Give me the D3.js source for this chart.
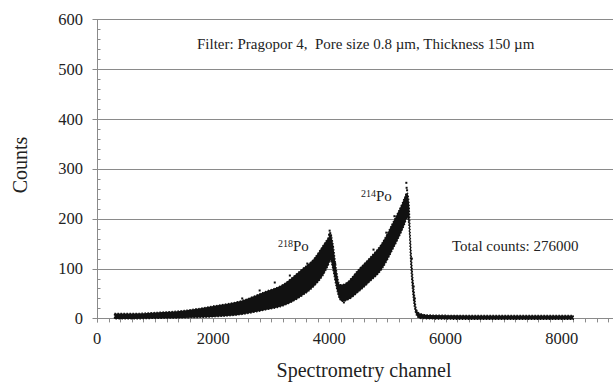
<!DOCTYPE html>
<html><head><meta charset="utf-8">
<script src="https://cdn.jsdelivr.net/npm/d3@7"></script>
<style>body{margin:0;background:#fff}svg{display:block}text{font-family:"Liberation Serif","Times New Roman",serif;fill:#222;white-space:pre}</style>
</head><body><div id="chart"></div>
<script>
// Spectrum band: channel, lower and upper edge of the dense point cloud (counts)
const channels = [300, 600, 1000, 1500, 2000, 2500, 2900, 3200, 3500, 3750, 3900, 3980, 4020, 4060, 4120, 4180, 4230, 4300, 4500, 4700, 4900, 5100, 5250, 5300, 5340, 5370, 5400, 5430, 5460, 5500, 5560, 5700, 6500, 7500, 8200];
const lower    = [1,   1,   2,    3,    5,    10,   19,   27,   45,   68,   90,   108,  118,  100,  64,   40,   36,   38,   55,   76,   100,  142,  178,  192,  204,  188,  112,  60,   28,   8,    2,    1,    0,    0,    0];
const upper    = [8,   8,   10,   14,   23,   34,   52,   66,   94,   120,  146,  160,  167,  150,  97,   66,   66,   70,   96,   120,  148,  192,  228,  242,  250,  232,  150,  92,   52,   16,   8,    5,    4,    4,    4];
// Sparse outlying points
const outX = [4005, 4015, 4030, 3995, 5325, 5330, 5338, 5320, 5310, 5120, 4980, 4760, 3620, 3320, 3060, 2800, 2500, 4250, 4380, 4100, 5450, 5470, 5420];
const outY = [176, 171, 166, 168, 272, 262, 257, 248, 240, 205, 172, 138, 110, 86, 72, 56, 40, 32, 78, 110, 64, 40, 120];
// Axes
const xTicks = [0, 2000, 4000, 6000, 8000];
const yTicks = [0, 100, 200, 300, 400, 500, 600];
const labels = {
  title: "Filter: Pragopor 4,  Pore size 0.8 \u00b5m, Thickness 150 \u00b5m",
  total: "Total counts: 276000",
  xTitle: "Spectrometry channel",
  yTitle: "Counts"
};

const W = 613, H = 385;
const svg = d3.select("#chart").append("svg").attr("width", W).attr("height", H);
const x = d3.scaleLinear().domain([0, 9000]).range([97, 619.8]);
const y = d3.scaleLinear().domain([0, 600]).range([318.4, 19.3]);
const gridColor = "#8a8a8a";

// gridlines
svg.append("g").selectAll("line").data(yTicks).join("line")
  .attr("x1", x(0)).attr("x2", W).attr("y1", d => Math.round(y(d)) + 0.5).attr("y2", d => Math.round(y(d)) + 0.5)
  .attr("stroke", gridColor).attr("stroke-width", 1);

// y minor ticks (inside)
const yMinor = d3.range(0, 601, 20).filter(v => v % 100 !== 0);
svg.append("g").selectAll("line").data(yMinor).join("line")
  .attr("x1", x(0)).attr("x2", x(0) + 3.5).attr("y1", d => Math.round(y(d)) + 0.5).attr("y2", d => Math.round(y(d)) + 0.5)
  .attr("stroke", gridColor);
// y major ticks (outside)
svg.append("g").selectAll("line").data(yTicks).join("line")
  .attr("x1", x(0) - 4.5).attr("x2", x(0)).attr("y1", d => Math.round(y(d)) + 0.5).attr("y2", d => Math.round(y(d)) + 0.5)
  .attr("stroke", gridColor);
// x ticks (outside, every 200)
const xMinor = d3.range(0, 9001, 200);
svg.append("g").selectAll("line").data(xMinor).join("line")
  .attr("x1", d => Math.round(x(d)) + 0.5).attr("x2", d => Math.round(x(d)) + 0.5)
  .attr("y1", y(0)).attr("y2", y(0) + 4)
  .attr("stroke", gridColor);
// y axis line
svg.append("line").attr("x1", Math.round(x(0)) + 0.5).attr("x2", Math.round(x(0)) + 0.5)
  .attr("y1", y(600)).attr("y2", y(0) + 4).attr("stroke", gridColor);

// data band
const band = channels.map((c, i) => ({c, lo: lower[i], hi: upper[i]}));
svg.append("path").datum(band)
  .attr("d", d3.area().x(d => x(d.c)).y0(d => y(d.lo) + 1).y1(d => y(d.hi) - 1).curve(d3.curveMonotoneX))
  .attr("fill", "#111").attr("stroke", "#111").attr("stroke-width", 1.2)
  .attr("stroke-dasharray", "1.5 1.5");
svg.append("g").selectAll("rect").data(outX.map((c, i) => ({c, v: outY[i]}))).join("rect")
  .attr("x", d => x(d.c) - 1).attr("y", d => y(d.v) - 1).attr("width", 2).attr("height", 2).attr("fill", "#111");

// tick labels
svg.append("g").selectAll("text").data(yTicks).join("text")
  .attr("x", 83).attr("y", d => y(d) + 5.5).attr("text-anchor", "end").attr("font-size", 16.5).text(d => d);
svg.append("g").selectAll("text").data(xTicks).join("text")
  .attr("x", d => x(d)).attr("y", 344).attr("text-anchor", "middle").attr("font-size", 16.5).text(d => d);

// annotations
svg.append("text").attr("x", 197).attr("y", 49).attr("font-size", 15).text(labels.title);
svg.append("text").attr("x", 452).attr("y", 251).attr("font-size", 15).text(labels.total);
function isoLabel(px, py, mass) {
  const t = svg.append("text").attr("x", px).attr("y", py).attr("font-size", 15);
  t.append("tspan").attr("font-size", 10).attr("dy", -4).text(mass);
  t.append("tspan").attr("dy", 4).text("Po");
}
isoLabel(278, 251, "218");
isoLabel(361, 201, "214");

// axis titles
svg.append("text").attr("x", 364).attr("y", 377).attr("text-anchor", "middle").attr("font-size", 20).text(labels.xTitle);
svg.append("text").attr("transform", "translate(27,165) rotate(-90)").attr("text-anchor", "middle").attr("font-size", 20).text(labels.yTitle);
</script></body></html>
